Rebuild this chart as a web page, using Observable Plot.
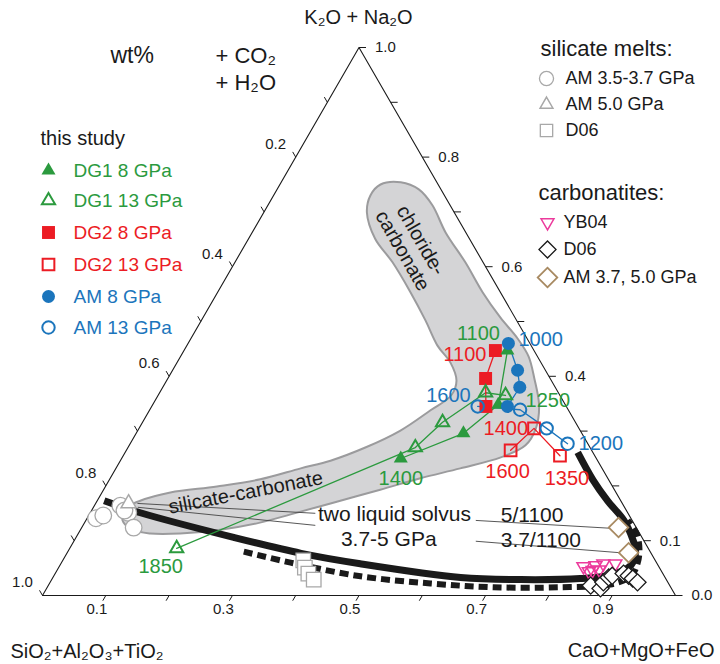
<!DOCTYPE html>
<html>
<head>
<meta charset="utf-8">
<script src="https://cdn.jsdelivr.net/npm/d3@7"></script>
<script src="https://cdn.jsdelivr.net/npm/@observablehq/plot@0.6"></script>
<style>
html,body{margin:0;padding:0;background:#fff;}
#chart svg{display:block;}
</style>
</head>
<body>
<div id="chart"></div>
<script>
// ---------- DATA: ternary fractions [CaO+MgO+FeO, K2O+Na2O]; SiO2+Al2O3+TiO2 = 1 - both ----------
const dg1_8GPa  = [[0.511,0.447],[0.546,0.348],[0.517,0.296],[0.441,0.250]];
const dg1_13GPa = [[0.549,0.365],[0.515,0.370],[0.474,0.316],[0.454,0.270],[0.169,0.086]];
const dg2_8GPa  = [[0.492,0.447],[0.502,0.396],[0.528,0.345]];
const dg2_13GPa = [[0.607,0.265],[0.624,0.305],[0.690,0.255]];
const am_8GPa   = [[0.506,0.460],[0.545,0.411],[0.564,0.380],[0.562,0.345]];
const am_13GPa  = [[0.515,0.345],[0.585,0.339],[0.644,0.305],[0.691,0.277]];

const silAM37 = [[0.014,0.141],[0.023,0.146],[0.041,0.164],[0.060,0.151],[0.052,0.155],[0.082,0.124]];
const silAM50 = [[0.052,0.168]];
const silD06  = [[0.380,0.064],[0.389,0.051],[0.400,0.040],[0.414,0.029]];

const carbYB04 = [[0.828,0.053],[0.841,0.044],[0.846,0.055],[0.856,0.047],[0.857,0.058],[0.876,0.058],[0.846,0.046]];
const carbD06  = [[0.857,0.018],[0.875,0.013],[0.874,0.024],[0.878,0.033],[0.882,0.036],[0.898,0.040],[0.908,0.036],[0.917,0.031],[0.928,0.024]];
const carbAM   = [[0.848,0.124],[0.887,0.078]];

// two-liquid solvus curves
const solvusSolid  = [[0.011,0.173],[0.079,0.151],[0.249,0.106],[0.370,0.077],[0.473,0.058],[0.644,0.033],[0.741,0.029],[0.834,0.031],[0.881,0.038],[0.902,0.055],[0.896,0.082],[0.880,0.104],[0.850,0.137],[0.806,0.173],[0.765,0.210],[0.715,0.261]];
const solvusDashed = [[0.278,0.080],[0.362,0.060],[0.485,0.035],[0.602,0.022],[0.705,0.015],[0.811,0.015],[0.887,0.020],[0.912,0.035],[0.911,0.058],[0.900,0.086],[0.882,0.113],[0.856,0.137]];

// tie lines between conjugate liquids
const tieLines = [
  [[0.066,0.168],[0.356,0.150]],
  [[0.070,0.161],[0.367,0.128]],
  [[0.616,0.137],[0.847,0.122]],
  [[0.635,0.099],[0.874,0.078]]
];

// shaded field (chloride-carbonate / silicate-carbonate)
const field = [[0.159,0.750],[0.189,0.754],[0.224,0.741],[0.260,0.712],[0.306,0.662],[0.364,0.608],[0.419,0.553],[0.470,0.507],[0.516,0.469],[0.550,0.436],[0.579,0.396],[0.611,0.347],[0.627,0.305],[0.626,0.274],[0.598,0.252],[0.544,0.232],[0.490,0.214],[0.437,0.193],[0.371,0.168],[0.318,0.148],[0.277,0.133],[0.221,0.120],[0.161,0.113],[0.114,0.113],[0.082,0.120],[0.058,0.137],[0.052,0.159],[0.068,0.173],[0.108,0.188],[0.176,0.199],[0.238,0.212],[0.292,0.232],[0.332,0.246],[0.375,0.270],[0.415,0.301],[0.444,0.338],[0.463,0.365],[0.458,0.392],[0.432,0.425],[0.396,0.456],[0.354,0.502],[0.305,0.553],[0.249,0.608],[0.200,0.651],[0.163,0.699],[0.153,0.730]];

// temperature labels: [text, series, point index]
const tempLabels = [
  ["1100","dg1_8",0],["1400","dg1_8",3],["1250","dg1_13",0],["1850","dg1_13",4],
  ["1100","dg2_8",0],["1600","dg2_13",0],["1400","dg2_13",1],["1350","dg2_13",2],
  ["1000","am_8",0],["1600","am_13",0],["1200","am_13",3]
];

// axis ticks and labels
const bottomTicks = [0.1,0.2,0.3,0.4,0.5,0.6,0.7,0.8,0.9];
const bottomLabels = [0.1,0.3,0.5,0.7,0.9];
const rightTicks = [0,0.1,0.2,0.3,0.4,0.5,0.6,0.7,0.8,0.9,1.0];
const rightLabels = [0.0,0.1,0.4,0.6,0.8,1.0];
const leftTicks = [0.1,0.2,0.3,0.4,0.5,0.6,0.7,0.8,0.9,1.0];
const leftLabels = [0.2,0.4,0.6,0.8,1.0];

const studyLegend = ["DG1 8 GPa","DG1 13 GPa","DG2 8 GPa","DG2 13 GPa","AM 8 GPa","AM 13 GPa"];
const silicateLegend = ["AM 3.5-3.7 GPa","AM 5.0 GPa","D06"];
const carbonatiteLegend = ["YB04","D06","AM 3.7, 5.0 GPa"];

// ---------- LAYOUT ----------
const W = 720, H = 664;
const ML = 42, MR = 45, MT = 47, MB = 69;
const X0 = ML, X1 = W - MR, Y0 = H - MB, Y1 = MT;
const kx = 1 / (X1 - X0), ky = 1 / (Y0 - Y1);
const tx = d => d[0] + d[1] / 2;   // ternary -> cartesian x
const ty = d => d[1];              // ternary -> cartesian y
const P = (px, py) => ({x: (px - X0) * kx, y: (Y0 - py) * ky}); // pixel layout helper for legend/titles

const FONT = "Arial, 'Liberation Sans', Helvetica, sans-serif";
const green = "#2b9a3e", red = "#ec1c24", blue = "#1b75bc", gray = "#a8a8a8",
      magenta = "#ec3a9c", brown = "#a88a62", ink = "#1a1a1a";

const seriesData = {dg1_8: dg1_8GPa, dg1_13: dg1_13GPa, dg2_8: dg2_8GPa, dg2_13: dg2_13GPa, am_8: am_8GPa, am_13: am_13GPa};
const seriesColor = {dg1_8: green, dg1_13: green, dg2_8: red, dg2_13: red, am_8: blue, am_13: blue};

const studyStyles = [
  {symbol:"triangle", r:5.2, fill:green, stroke:"none"},
  {symbol:"triangle", r:4.9, fill:"none", stroke:green, strokeWidth:2},
  {symbol:"square", r:7.3, fill:red, stroke:"none"},
  {symbol:"square", r:6.6, fill:"none", stroke:red, strokeWidth:2},
  {symbol:"circle", r:6.5, fill:blue, stroke:"none"},
  {symbol:"circle", r:6.2, fill:"none", stroke:blue, strokeWidth:2}
];
const studyColors = [green, green, red, red, blue, blue];
const studySeries = [dg1_8GPa, dg1_13GPa, dg2_8GPa, dg2_13GPa, am_8GPa, am_13GPa];

const silStyles = [
  {symbol:"circle", r:8.3, fill:"white", stroke:gray, strokeWidth:1.3},
  {symbol:"triangle", r:5.6, fill:"white", stroke:gray, strokeWidth:1.5},
  {symbol:"square", r:8.2, fill:"white", stroke:gray, strokeWidth:1.3}
];
const carbStyles = [
  {symbol:"triangle", r:4.8, rotate:180, fill:"none", stroke:magenta, strokeWidth:1.5},
  {symbol:"square", r:6.8, rotate:45, fill:"white", stroke:ink, strokeWidth:1.3},
  {symbol:"square", r:7.8, rotate:45, fill:"white", stroke:brown, strokeWidth:1.8}
];

const labelLayout = [
  {anchor:"middle", dx:-29, dy:-17},
  {anchor:"middle", dx:0, dy:20},
  {anchor:"start", dx:20, dy:5},
  {anchor:"middle", dx:-16, dy:18},
  {anchor:"end", dx:-9, dy:4},
  {anchor:"middle", dx:-3, dy:21},
  {anchor:"end", dx:-6, dy:0},
  {anchor:"middle", dx:7, dy:23},
  {anchor:"start", dx:10, dy:-4},
  {anchor:"end", dx:-7, dy:-11},
  {anchor:"start", dx:11, dy:0}
];

const marks = [];

// shaded field
marks.push(Plot.line(field, {x: tx, y: ty, curve: "catmull-rom-closed", fill: "#d4d4d6", stroke: "#9b9b9d", strokeWidth: 2}));

// triangle frame
marks.push(Plot.line([[0,0],[1,0],[0,1],[0,0]], {x: tx, y: ty, stroke: ink, strokeWidth: 1.1}));

// ticks
marks.push(Plot.link(bottomTicks, {x1: t => t, y1: () => 0, x2: t => t - 3 * kx, y2: () => -5.2 * ky, stroke: ink, strokeWidth: 1}));
marks.push(Plot.link(rightTicks, {x1: a => 1 - a / 2, y1: a => a, x2: a => 1 - a / 2 + 7 * kx, y2: a => a, stroke: ink, strokeWidth: 1}));
marks.push(Plot.link(leftTicks, {x1: s => (1 - s) / 2, y1: s => 1 - s, x2: s => (1 - s) / 2 - 3 * kx, y2: s => 1 - s + 5.2 * ky, stroke: ink, strokeWidth: 1}));

// tick labels
const tickFont = {fontSize: 15, fontFamily: FONT, fill: ink};
marks.push(Plot.text(bottomLabels, {x: t => t, y: () => 0, text: t => t.toFixed(1), dx: -9, dy: 14, ...tickFont}));
marks.push(Plot.text(rightLabels, {x: a => 1 - a / 2, y: a => a, text: a => a.toFixed(1), textAnchor: "start", dx: 16, dy: 0, ...tickFont}));
marks.push(Plot.text(leftLabels, {x: s => (1 - s) / 2, y: s => 1 - s, text: s => s.toFixed(1), dx: -20, dy: -13, ...tickFont}));

// solvus curves
marks.push(Plot.line(solvusDashed, {x: tx, y: ty, curve: "catmull-rom", stroke: ink, strokeWidth: 6, strokeDasharray: "9,5", strokeLinecap: "butt"}));
marks.push(Plot.line(solvusSolid, {x: tx, y: ty, curve: "catmull-rom", stroke: ink, strokeWidth: 7, strokeLinecap: "butt"}));

// tie lines
marks.push(Plot.link(tieLines, {x1: d => tx(d[0]), y1: d => ty(d[0]), x2: d => tx(d[1]), y2: d => ty(d[1]), stroke: "#444", strokeWidth: 0.9}));

// literature points
[silAM37, silAM50, silD06].forEach((arr, i) => marks.push(Plot.dot(arr, {x: tx, y: ty, ...silStyles[i]})));
[carbYB04, carbD06, carbAM].forEach((arr, i) => marks.push(Plot.dot(arr, {x: tx, y: ty, ...carbStyles[i]})));

// experiment paths
studySeries.forEach((arr, i) => marks.push(Plot.line(arr, {x: tx, y: ty, stroke: studyColors[i], strokeWidth: 1.3})));
// experiment points (draw red, green, blue order)
[2,3,0,1,4,5].forEach(i => marks.push(Plot.dot(studySeries[i], {x: tx, y: ty, ...studyStyles[i]})));

// temperature labels
tempLabels.forEach(([t, s, idx], i) => {
  const L = labelLayout[i];
  marks.push(Plot.text([seriesData[s][idx]], {x: tx, y: ty, text: () => t, textAnchor: L.anchor, dx: L.dx, dy: L.dy,
    fill: seriesColor[s], fontSize: 20, fontFamily: FONT}));
});

// field / solvus annotations (ternary positions)
const annot = (pos, text, opts) => marks.push(Plot.text([pos], {x: tx, y: ty, text: () => text, fontSize: 20, fontFamily: FONT, fill: ink, ...opts}));
annot([0.264,0.639], "chloride-\ncarbonate", {rotate: 60, lineHeight: 1.05});
annot([0.227,0.188], "silicate-carbonate", {rotate: -11});
annot([0.482,0.148], "two liquid solvus", {fontSize: 21});
annot([0.496,0.102], "3.7-5 GPa", {fontSize: 21});
annot([0.651,0.146], "5/1100", {fontSize: 21, textAnchor: "start"});
annot([0.674,0.100], "3.7/1100", {fontSize: 21, textAnchor: "start"});

// titles (pixel layout)
const ptext = (px, py, text, opts) => marks.push(Plot.text([P(px, py)], {x: "x", y: "y", text: () => text, fontFamily: FONT, fill: ink, ...opts}));
ptext(358, 17, "K\u2082O + Na\u2082O", {fontSize: 20});
ptext(10, 651, "SiO\u2082+Al\u2082O\u2083+TiO\u2082", {fontSize: 20, textAnchor: "start"});
ptext(714, 650, "CaO+MgO+FeO", {fontSize: 20, textAnchor: "end"});
ptext(110, 55, "wt%", {fontSize: 23, textAnchor: "start"});
ptext(215, 55, "+ CO\u2082", {fontSize: 22, textAnchor: "start"});
ptext(215, 82, "+ H\u2082O", {fontSize: 22, textAnchor: "start"});

// legends
ptext(40, 138, "this study", {fontSize: 20, textAnchor: "start"});
const studyY = [170, 200, 232, 264, 296, 327];
studyLegend.forEach((name, i) => {
  marks.push(Plot.dot([P(48, studyY[i])], {x: "x", y: "y", ...studyStyles[i]}));
  ptext(73, studyY[i], name, {fontSize: 19, textAnchor: "start", fill: studyColors[i]});
});
ptext(540, 48, "silicate melts:", {fontSize: 22, textAnchor: "start"});
const silY = [78, 104, 130];
silicateLegend.forEach((name, i) => {
  marks.push(Plot.dot([P(546, silY[i])], {x: "x", y: "y", ...silStyles[i], r: silStyles[i].r * 0.85}));
  ptext(565, silY[i], name, {fontSize: 18, textAnchor: "start"});
});
ptext(538, 192, "carbonatites:", {fontSize: 22, textAnchor: "start"});
const carbY = [222, 249, 277];
carbonatiteLegend.forEach((name, i) => {
  marks.push(Plot.dot([P(547, carbY[i])], {x: "x", y: "y", ...carbStyles[i]}));
  ptext(563, carbY[i], name, {fontSize: 18, textAnchor: "start"});
});

const chart = Plot.plot({
  width: W, height: H,
  marginLeft: ML, marginRight: MR, marginTop: MT, marginBottom: MB,
  x: {domain: [0, 1], range: [X0, X1], axis: null},
  y: {domain: [0, 1], range: [Y0, Y1], axis: null},
  style: {fontFamily: FONT, background: "white"},
  marks
});
document.getElementById("chart").appendChild(chart);
</script>
</body>
</html>
